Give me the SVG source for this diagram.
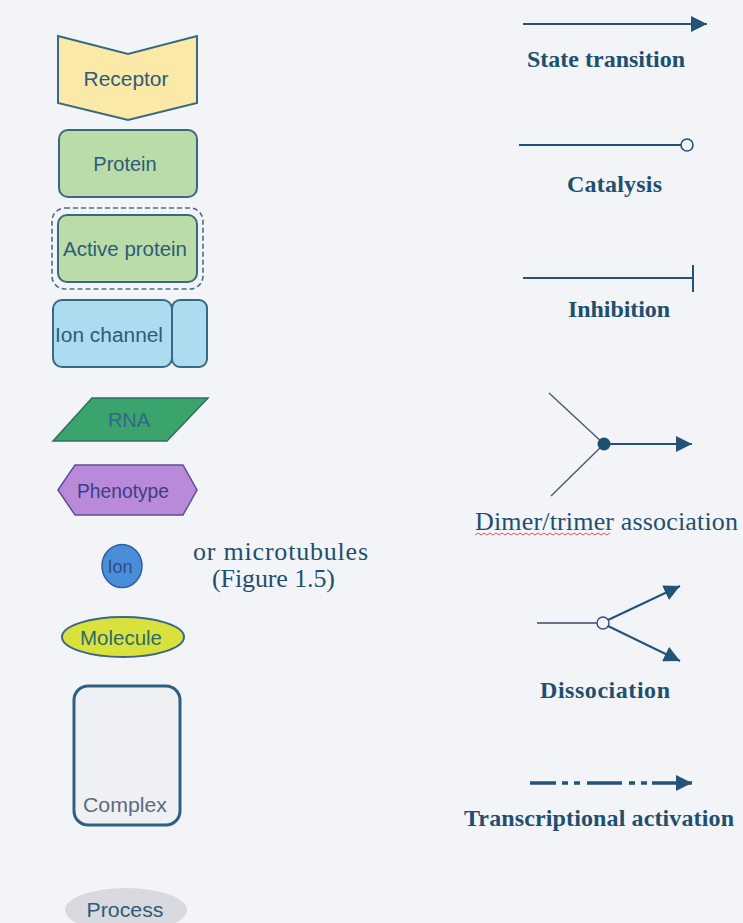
<svg xmlns="http://www.w3.org/2000/svg" width="743" height="923" viewBox="0 0 743 923">
  <style>
    .node { stroke: #3b6784; stroke-width: 2; }
    .nlabel { font-family: "Liberation Sans", Arial, sans-serif; font-size: 20px; fill: #2f5b78; text-anchor: middle; }
    .elabel { font-family: "Liberation Serif", "Times New Roman", serif; font-size: 24px; fill: #1f4f6e; font-weight: bold; }
    .reg { font-weight: normal; font-size: 26px; }
    .wire { stroke: #245378; stroke-width: 2; fill: none; }
  </style>
  <defs>
    <marker id="arrow" viewBox="0 0 10 10" refX="10" refY="5" markerWidth="16" markerHeight="16" markerUnits="userSpaceOnUse" orient="auto">
      <path d="M0,0 L10,5 L0,10 z" fill="#245378"/>
    </marker>
  </defs>
  <rect width="743" height="923" fill="#f3f4f8"/>

  <!-- glyph nodes, left column -->
  <g id="receptor">
    <polygon class="node" points="58,36 128,54 197,36 197,103 128,120 58,103" fill="#fbe9a8"/>
    <text class="nlabel" x="126" y="86" textLength="85" lengthAdjust="spacingAndGlyphs">Receptor</text>
  </g>
  <g id="protein">
    <rect class="node" x="59" y="130" width="138" height="67" rx="9" fill="#b9dca8"/>
    <text class="nlabel" x="125" y="171">Protein</text>
  </g>
  <g id="active-protein">
    <rect x="52" y="208" width="151" height="81" rx="13" fill="none" stroke="#4a6e88" stroke-width="1.6" stroke-dasharray="5,3"/>
    <rect class="node" x="58" y="215" width="139" height="67" rx="9" fill="#b9dca8"/>
    <text class="nlabel" x="125" y="256" textLength="124" lengthAdjust="spacingAndGlyphs">Active protein</text>
  </g>
  <g id="ion-channel">
    <rect class="node" x="53" y="300" width="119" height="67" rx="9" fill="#abdcef"/>
    <rect class="node" x="172" y="300" width="35" height="67" rx="8" fill="#abdcef"/>
    <text class="nlabel" x="109" y="342" textLength="108" lengthAdjust="spacingAndGlyphs">Ion channel</text>
  </g>
  <g id="rna">
    <polygon points="92,398 208,398 167,441 53,441" fill="#3ba36c" stroke="#2f6f5c" stroke-width="1.5"/>
    <text class="nlabel" x="129" y="427" style="fill:#2f6a86">RNA</text>
  </g>
  <g id="phenotype">
    <polygon points="58,490 75,465 183,465 197,490 183,515 75,515" fill="#b98ad9" stroke="#5a4f98" stroke-width="1.5"/>
    <text class="nlabel" x="123" y="498" textLength="92" lengthAdjust="spacingAndGlyphs" style="fill:#3a3f86">Phenotype</text>
  </g>
  <g id="ion">
    <ellipse cx="122" cy="566" rx="20" ry="21.5" fill="#4a8ed9" stroke="#2c5fa2" stroke-width="1.5"/>
    <text class="nlabel" x="120" y="573" style="font-size:18px;fill:#2a4e86">Ion</text>
  </g>
  <g id="microtubules-note">
    <text class="elabel reg" x="193" y="560" textLength="175" lengthAdjust="spacing">or microtubules</text>
    <text class="elabel reg" x="212" y="587" textLength="123" lengthAdjust="spacing">(Figure 1.5)</text>
  </g>
  <g id="molecule">
    <ellipse cx="123" cy="637" rx="61" ry="20" fill="#d9e23d" stroke="#3b6784" stroke-width="2"/>
    <text class="nlabel" x="121" y="645" textLength="82" lengthAdjust="spacingAndGlyphs" style="fill:#2f6a6a">Molecule</text>
  </g>
  <g id="complex">
    <rect x="74" y="686" width="106" height="139" rx="14" fill="#eef0f4" stroke="#2e5f82" stroke-width="3"/>
    <text class="nlabel" x="125" y="812" textLength="84" lengthAdjust="spacingAndGlyphs" style="fill:#5a6a80">Complex</text>
  </g>
  <g id="process">
    <ellipse cx="126" cy="910" rx="61" ry="22" fill="#d8dae0"/>
    <text class="nlabel" x="125" y="917" textLength="77" lengthAdjust="spacingAndGlyphs" style="fill:#2f5b78">Process</text>
  </g>

  <!-- arc styles, right column -->
  <g id="connectors">
    <line class="wire" x1="523" y1="24" x2="707" y2="24" marker-end="url(#arrow)"/>
    <line class="wire" x1="519" y1="145" x2="681" y2="145"/>
    <circle cx="687" cy="145" r="6" fill="#f3f4f8" stroke="#245378" stroke-width="1.6"/>
    <line class="wire" x1="523" y1="278" x2="693" y2="278"/>
    <line class="wire" x1="693" y1="265" x2="693" y2="292"/>
    <line x1="549" y1="393" x2="604" y2="444" stroke="#4a5a6a" stroke-width="1.4"/>
    <line x1="551" y1="496" x2="604" y2="444" stroke="#4a5a6a" stroke-width="1.4"/>
    <line class="wire" x1="604" y1="444" x2="692" y2="444" marker-end="url(#arrow)"/>
    <circle cx="604" cy="444" r="6.5" fill="#1f4f6e"/>
    <line x1="537" y1="623" x2="597" y2="623" stroke="#3a4a5a" stroke-width="1.4"/>
    <circle cx="603" cy="623" r="6" fill="none" stroke="#3a4a8a" stroke-width="1.4"/>
    <line class="wire" x1="608" y1="620" x2="680" y2="586" marker-end="url(#arrow)"/>
    <line class="wire" x1="608" y1="626" x2="680" y2="661" marker-end="url(#arrow)"/>
    <g stroke="#245378" stroke-width="3.5">
      <line x1="530" y1="783" x2="556" y2="783"/>
      <line x1="562" y1="783" x2="568" y2="783"/>
      <line x1="574" y1="783" x2="580" y2="783"/>
      <line x1="587" y1="783" x2="622" y2="783"/>
      <line x1="629" y1="783" x2="635" y2="783"/>
      <line x1="641" y1="783" x2="647" y2="783"/>
      <line x1="652" y1="783" x2="692" y2="783" marker-end="url(#arrow)"/>
    </g>
  </g>

  <g id="arc-labels">
    <text class="elabel" x="527" y="67" textLength="158" lengthAdjust="spacing">State transition</text>
    <text class="elabel" x="567" y="192" textLength="95" lengthAdjust="spacing">Catalysis</text>
    <text class="elabel" x="568" y="317" textLength="102" lengthAdjust="spacing">Inhibition</text>
    <text class="elabel reg" x="475" y="530" textLength="263" lengthAdjust="spacing">Dimer/trimer association</text>
    <path d="M475,535 l3,-2 l3,2 l3,-2 l3,2 l3,-2 l3,2 l3,-2 l3,2 l3,-2 l3,2 l3,-2 l3,2 l3,-2 l3,2 l3,-2 l3,2 l3,-2 l3,2 l3,-2 l3,2 l3,-2 l3,2 l3,-2 l3,2 l3,-2 l3,2 l3,-2 l3,2 l3,-2 l3,2 l3,-2 l3,2 l3,-2 l3,2 l3,-2 l3,2 l3,-2 l3,2 l3,-2 l3,2 l3,-2 l3,2 l3,-2 l3,2 l3,-2" fill="none" stroke="#e04040" stroke-width="0.9"/>
    <text class="elabel" x="540" y="698" textLength="130" lengthAdjust="spacing">Dissociation</text>
    <text class="elabel" x="464" y="826" textLength="270" lengthAdjust="spacing">Transcriptional activation</text>
  </g>
</svg>
